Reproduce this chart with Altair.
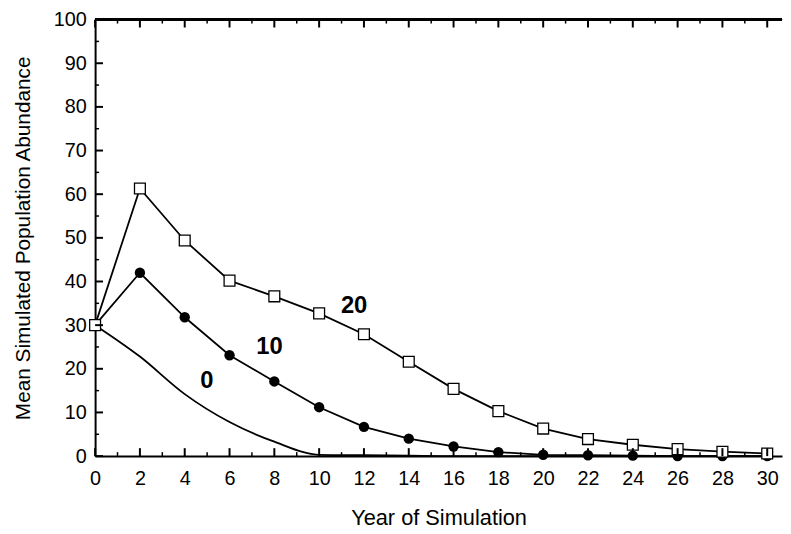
import altair as alt
import pandas as pd

# ---- data ----
years = [0, 2, 4, 6, 8, 10, 12, 14, 16, 18, 20, 22, 24, 26, 28, 30]
s20 = [30.0, 61.3, 49.4, 40.2, 36.6, 32.7, 27.9, 21.6, 15.4, 10.3, 6.3, 3.9, 2.6, 1.6, 1.0, 0.6]
s10 = [30.0, 42.0, 31.8, 23.1, 17.1, 11.2, 6.7, 4.0, 2.2, 0.9, 0.3, 0.2, 0.1, 0.0, 0.0, 0.0]
s0 = [30.0, 22.8, 14.2, 7.8, 3.3, 0.3, 0.2, 0.1, 0.0, 0.0, 0.0, 0.0, 0.0, 0.0, 0.0, 0.0]

label_text = ["20", "10", "0"]
label_year = [11.56, 7.78, 4.99]
label_value = [34.4, 25.0, 17.2]

x_ticks = list(range(0, 31))
y_ticks = list(range(0, 101, 5))

W, H = 694, 441
X_MAX = 30.66
FONT = "Liberation Sans"

df20 = pd.DataFrame({"year": years, "value": s20})
df10 = pd.DataFrame({"year": years, "value": s10})
df0 = pd.DataFrame({"year": years, "value": s0})
dflab = pd.DataFrame({"text": label_text, "year": label_year, "value": label_value})
dfx = pd.DataFrame({"year": x_ticks, "major": [t % 2 == 0 for t in x_ticks]})
dfy = pd.DataFrame({"v": y_ticks, "major": [t % 10 == 0 for t in y_ticks]})

xscale = alt.Scale(domain=[0, X_MAX], nice=False, zero=False)
yscale = alt.Scale(domain=[0, 100], nice=False)

xaxis = alt.Axis(values=list(range(0, 31, 2)), tickSize=0, grid=False,
                 title="Year of Simulation", labelPadding=13, titlePadding=19,
                 titleFontSize=22, domainWidth=2, domainColor="black", labelFlush=False)
yaxis = alt.Axis(values=list(range(0, 101, 10)), tickSize=0, grid=False,
                 title="Mean Simulated Population Abundance", labelPadding=9,
                 titlePadding=20, domainWidth=2, domainColor="black")

X = alt.X("year:Q", scale=xscale, axis=xaxis)
Y = alt.Y("value:Q", scale=yscale, axis=yaxis)

line0 = alt.Chart(df0).mark_line(color="black", strokeWidth=1.8, interpolate="monotone").encode(x=X, y=Y)
line10 = alt.Chart(df10).mark_line(color="black", strokeWidth=1.8).encode(x=X, y=Y)
line20 = alt.Chart(df20).mark_line(color="black", strokeWidth=1.8).encode(x=X, y=Y)
pts10 = alt.Chart(df10).mark_point(shape="circle", filled=True, color="black", size=110, opacity=1).encode(x=X, y=Y)
pts20 = alt.Chart(df20).mark_point(shape="square", filled=True, fill="white", stroke="black",
                                   strokeWidth=1.3, size=120, opacity=1).encode(x=X, y=Y)
labels = alt.Chart(dflab).mark_text(font=FONT, fontSize=24, fontWeight="bold", color="black").encode(
    x=X, y=Y, text="text:N")

# top frame line
topline = alt.Chart(dfx).mark_rule(color="black", strokeWidth=2).encode(
    x=alt.datum(0, scale=xscale), x2=alt.datum(X_MAX), y=alt.value(0))

# inward ticks
bx_major = alt.Chart(dfx).transform_filter("datum.major").mark_rule(color="black", strokeWidth=2).encode(
    x=alt.X("year:Q", scale=xscale), y=alt.value(H), y2=alt.value(H - 8))
bx_minor = alt.Chart(dfx).transform_filter("!datum.major").mark_rule(color="black", strokeWidth=1.5).encode(
    x=alt.X("year:Q", scale=xscale), y=alt.value(H), y2=alt.value(H - 4))
tx_major = alt.Chart(dfx).transform_filter("datum.major").mark_rule(color="black", strokeWidth=2).encode(
    x=alt.X("year:Q", scale=xscale), y=alt.value(0), y2=alt.value(8))
tx_minor = alt.Chart(dfx).transform_filter("!datum.major").mark_rule(color="black", strokeWidth=1.5).encode(
    x=alt.X("year:Q", scale=xscale), y=alt.value(0), y2=alt.value(4))
ly_major = alt.Chart(dfy).transform_filter("datum.major").mark_rule(color="black", strokeWidth=2).encode(
    y=alt.Y("v:Q", scale=yscale), x=alt.value(0), x2=alt.value(8))
ly_minor = alt.Chart(dfy).transform_filter("!datum.major").mark_rule(color="black", strokeWidth=1.5).encode(
    y=alt.Y("v:Q", scale=yscale), x=alt.value(0), x2=alt.value(4))

chart = alt.layer(
    line0, line10, line20, pts10, pts20, labels,
    topline, bx_major, bx_minor, tx_major, tx_minor, ly_major, ly_minor,
).properties(
    width=W, height=H,
    autosize=alt.AutoSizeParams(type="none"),
    padding={"left": 88, "top": 9, "right": 1, "bottom": 76},
    background="white",
).configure_view(stroke=None).configure_axis(
    labelFont=FONT, labelFontSize=20, labelColor="black",
    titleFont=FONT, titleFontSize=21, titleFontWeight="normal", titleColor="black",
)

chart.save("out.html", embed_options={"renderer": "svg", "actions": False})
